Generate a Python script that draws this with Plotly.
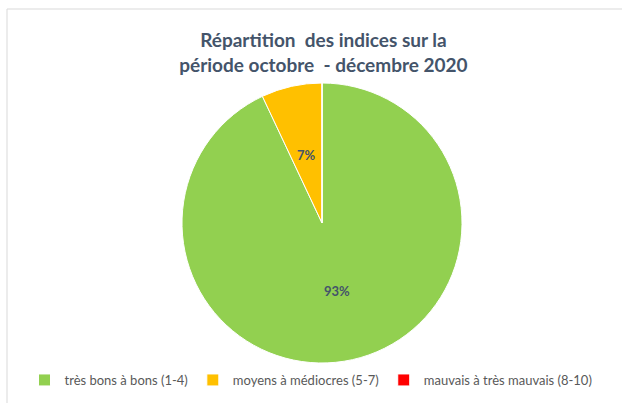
import math
import plotly.graph_objects as go

categories = ["très bons à bons (1-4)", "moyens à médiocres (5-7)", "mauvais à très mauvais (8-10)"]
values = [93, 7, 0]
colors = ["#92D050", "#FFC000", "#FF0000"]
title_lines = ["Répartition  des indices sur la", "période octobre  - décembre 2020"]

W, H = 622, 403
cx, cy, r = 322, 223, 140

fig = go.Figure(go.Pie(
    labels=categories,
    values=values,
    marker=dict(colors=colors, line=dict(color="#FFFFFF", width=1)),
    sort=False,
    direction="clockwise",
    rotation=0,
    textinfo="none",
    domain=dict(x=[(cx - r) / W, (cx + r) / W], y=[1 - (cy + r) / H, 1 - (cy - r) / H]),
    hoverinfo="label+percent",
))

# data labels (percentages) placed at mid-angle of each slice, like Excel
total = sum(values)
annotations = []
cum = 0
for v in values:
    if v > 0:
        mid = (cum + v / 2) / total * 2 * math.pi
        d = 0.5 * r
        px = cx + d * math.sin(mid)
        py = cy - d * math.cos(mid)
        annotations.append(dict(
            x=px / W, y=1 - py / H, xref="paper", yref="paper",
            xanchor="center", yanchor="middle",
            text="<b>%d%%</b>" % round(100 * v / total), showarrow=False,
            font=dict(family="Lato, Open Sans, sans-serif", size=13, color="#44546A"),
        ))
    cum += v

fig.update_layout(
    width=W, height=H,
    margin=dict(l=0, r=0, t=0, b=0),
    paper_bgcolor="#FFFFFF",
    title=dict(
        text="<b>" + "<br>".join(title_lines) + "</b>",
        x=0.52, xanchor="center", y=1 - 47 / H, yanchor="middle",
        font=dict(family="Lato, Open Sans, sans-serif", size=19, color="#44546A"),
    ),
    legend=dict(
        orientation="h",
        x=0.5, xanchor="center",
        y=1 - 380 / H, yanchor="middle",
        font=dict(family="Lato, Open Sans, sans-serif", size=13, color="#595959"),
        itemwidth=30,
        tracegroupgap=0,
    ),
    annotations=annotations,
    shapes=[dict(type="rect", xref="paper", yref="paper",
                 x0=7 / W, x1=1.05, y0=-0.05, y1=1 - 9 / H,
                 line=dict(color="#D9D9D9", width=1))],
)

fig.write_html("out.html", config={"displayModeBar": False},
               post_script="document.body.style.margin='0';")
